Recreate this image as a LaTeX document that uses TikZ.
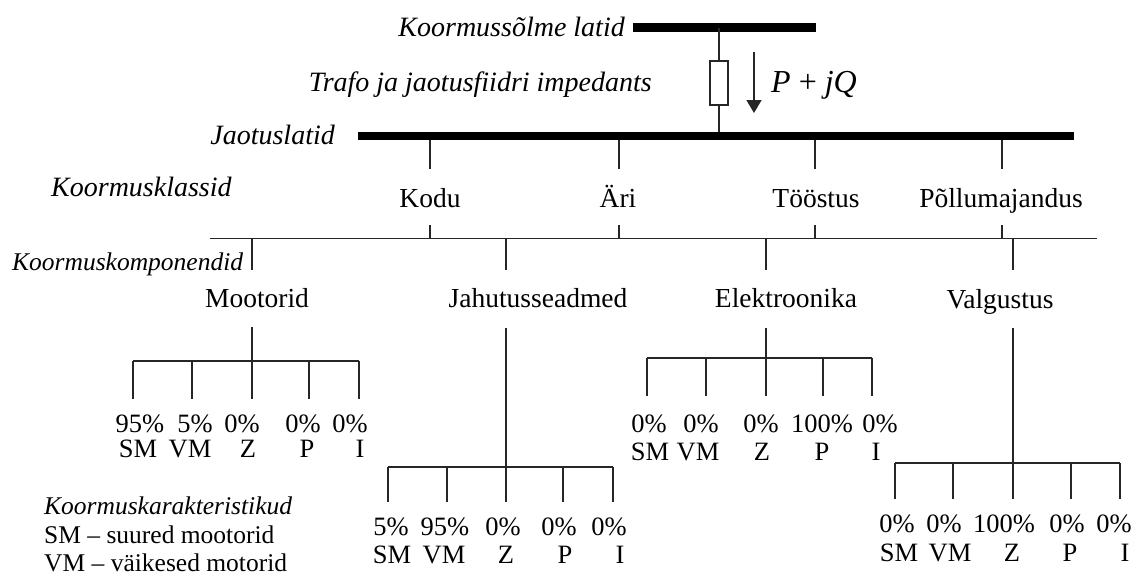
\documentclass[tikz,border=0pt]{standalone}
\usepackage{fontspec}
\setmainfont{Liberation Serif}
\usetikzlibrary{arrows.meta}
\begin{document}
\begin{tikzpicture}[x=1pt,y=-1pt,
  ln/.style={line width=1.5pt, draw=black!85},
  busbar/.style={line width=8.5pt, line cap=butt, draw=black},
  hd/.style={font=\fontsize{28}{28}\selectfont\itshape, anchor=base east, inner sep=0pt},
  cls/.style={font=\fontsize{27.5}{28}\selectfont, anchor=base, inner sep=0pt},
  pct/.style={font=\fontsize{26.5}{27}\selectfont, anchor=base, inner sep=0pt},
  leg/.style={font=\fontsize{25.5}{26}\selectfont, anchor=base west, inner sep=0pt}]
\useasboundingbox (0,0) rectangle (1134,576);

% top bus and impedance
\coordinate (tb1) at (633,27.5); \coordinate (tb2) at (816,27.5);
\draw[busbar] (tb1) -- (tb2);
\node[hd] (klatid) at (625,36) {Koormussõlme latid};
\node[draw=black!85, line width=1.5pt, minimum width=18pt, minimum height=44pt, inner sep=0pt] (R) at (719,83) {};
\coordinate (tj) at (719,27.5); \coordinate (bj) at (719,136);
\draw[ln] (tj) -- (R.north);
\draw[ln] (R.south) -- (bj);
\coordinate (a1) at (754,52); \coordinate (a2) at (754,113);
\draw[ln, -{Triangle[length=13pt,width=15pt]}] (a1) -- (a2);
\node[font=\fontsize{32}{32}\selectfont, anchor=base west, inner sep=0pt] (pq) at (771,92) {\textit{P} + \textit{jQ}};
\node[hd] (trafo) at (652,91) {Trafo ja jaotusfiidri impedants};

% distribution bus
\node[hd] (jlatid) at (335,144) {Jaotuslatid};
\coordinate (jb1) at (358,136); \coordinate (jb2) at (1074,136);
\draw[busbar] (jb1) -- (jb2);

% load classes
\node[hd, anchor=base west] (kklass) at (51,196) {Koormusklassid};
\foreach \x/\t/\n in {430/Kodu/kodu, 618/Äri/ari, 816/Tööstus/toostus, 1001/Põllumajandus/pollu} {
  \node[cls] (\n) at (\x,207) {\t};
}
\foreach \x/\n in {430/kodu, 619/ari, 815/toostus, 1002/pollu} {
  \coordinate (\n a) at (\x,140); \coordinate (\n b) at (\x,169);
  \coordinate (\n c) at (\x,225); \coordinate (\n d) at (\x,238.5);
  \draw[ln] (\n a) -- (\n b);
  \draw[ln] (\n c) -- (\n d);
}
\coordinate (h1) at (210,238.5); \coordinate (h2) at (1097,238.5);
\draw[ln] (h1) -- (h2);

% load components
\node[font=\fontsize{25.5}{26}\selectfont\itshape, anchor=base west, inner sep=0pt] (kkomp) at (12,270) {Koormuskomponendid};
\foreach \x/\n in {252/moot, 506/jah, 766/elek, 1013/valg} {
  \coordinate (\n a) at (\x,238.5); \coordinate (\n b) at (\x,270);
  \draw[ln] (\n a) -- (\n b);
}
\node[cls] (mootorid) at (257,307) {Mootorid};
\node[cls] (jahutus) at (538,307) {Jahutusseadmed};
\node[cls] (elektroonika) at (786,307) {Elektroonika};
\node[cls] (valgustus) at (1000,308) {Valgustus};

% Mootorid group
\coordinate (mc1) at (252,327); \coordinate (mc2) at (252,361);
\draw[ln] (mc1) -- (mc2);
\coordinate (mh1) at (133,361); \coordinate (mh2) at (359,361);
\draw[ln] (mh1) -- (mh2);
\foreach \x/\px/\p/\lx/\l [count=\i] in {133/140/95\%/138/SM, 192/195/5\%/190/VM, 252/242/0\%/248/Z, 309/303/0\%/307/P, 359/350/0\%/360/I} {
  \coordinate (mt\i) at (\x,361); \coordinate (mb\i) at (\x,399);
  \draw[ln] (mt\i) -- (mb\i);
  \node[pct] (mp\i) at (\px,432) {\p};
  \node[pct] (ml\i) at (\lx,457) {\l};
}

% Jahutusseadmed group
\coordinate (jc1) at (506,328); \coordinate (jc2) at (506,467);
\draw[ln] (jc1) -- (jc2);
\coordinate (jh1) at (388,467); \coordinate (jh2) at (613,467);
\draw[ln] (jh1) -- (jh2);
\foreach \x/\px/\p/\lx/\l [count=\i] in {388/391/5\%/392/SM, 447/445/95\%/444/VM, 506/503/0\%/506/Z, 563/559/0\%/565/P, 613/609/0\%/620/I} {
  \coordinate (jt\i) at (\x,467); \coordinate (jbt\i) at (\x,502);
  \draw[ln] (jt\i) -- (jbt\i);
  \node[pct] (jp\i) at (\px,535) {\p};
  \node[pct] (jl\i) at (\lx,563) {\l};
}

% Elektroonika group
\coordinate (ec1) at (766,328); \coordinate (ec2) at (766,358);
\draw[ln] (ec1) -- (ec2);
\coordinate (eh1) at (647,358); \coordinate (eh2) at (872,358);
\draw[ln] (eh1) -- (eh2);
\foreach \x/\px/\p/\lx/\l [count=\i] in {647/649/0\%/650/SM, 706/701/0\%/698/VM, 766/761/0\%/762/Z, 823/822/100\%/822/P, 872/880/0\%/876/I} {
  \coordinate (et\i) at (\x,358); \coordinate (eb\i) at (\x,396);
  \draw[ln] (et\i) -- (eb\i);
  \node[pct] (ep\i) at (\px,432) {\p};
  \node[pct] (el\i) at (\lx,460) {\l};
}

% Valgustus group
\coordinate (vc1) at (1013,328); \coordinate (vc2) at (1013,463);
\draw[ln] (vc1) -- (vc2);
\coordinate (vh1) at (895,463); \coordinate (vh2) at (1120,463);
\draw[ln] (vh1) -- (vh2);
\foreach \x/\px/\p/\lx/\l [count=\i] in {895/897/0\%/899/SM, 953/944/0\%/950/VM, 1013/1004/100\%/1012/Z, 1071/1067/0\%/1070/P, 1120/1114/0\%/1125/I} {
  \coordinate (vt\i) at (\x,463); \coordinate (vb\i) at (\x,499);
  \draw[ln] (vt\i) -- (vb\i);
  \node[pct] (vp\i) at (\px,532) {\p};
  \node[pct] (vl\i) at (\lx,561) {\l};
}

% legend
\node[leg, font=\fontsize{25.5}{26}\selectfont\itshape] (legt) at (44,514) {Koormuskarakteristikud};
\node[leg] (leg1) at (44,543) {SM -- suured mootorid};
\node[leg] (leg2) at (44,571) {VM -- väikesed motorid};
\end{tikzpicture}
\end{document}
